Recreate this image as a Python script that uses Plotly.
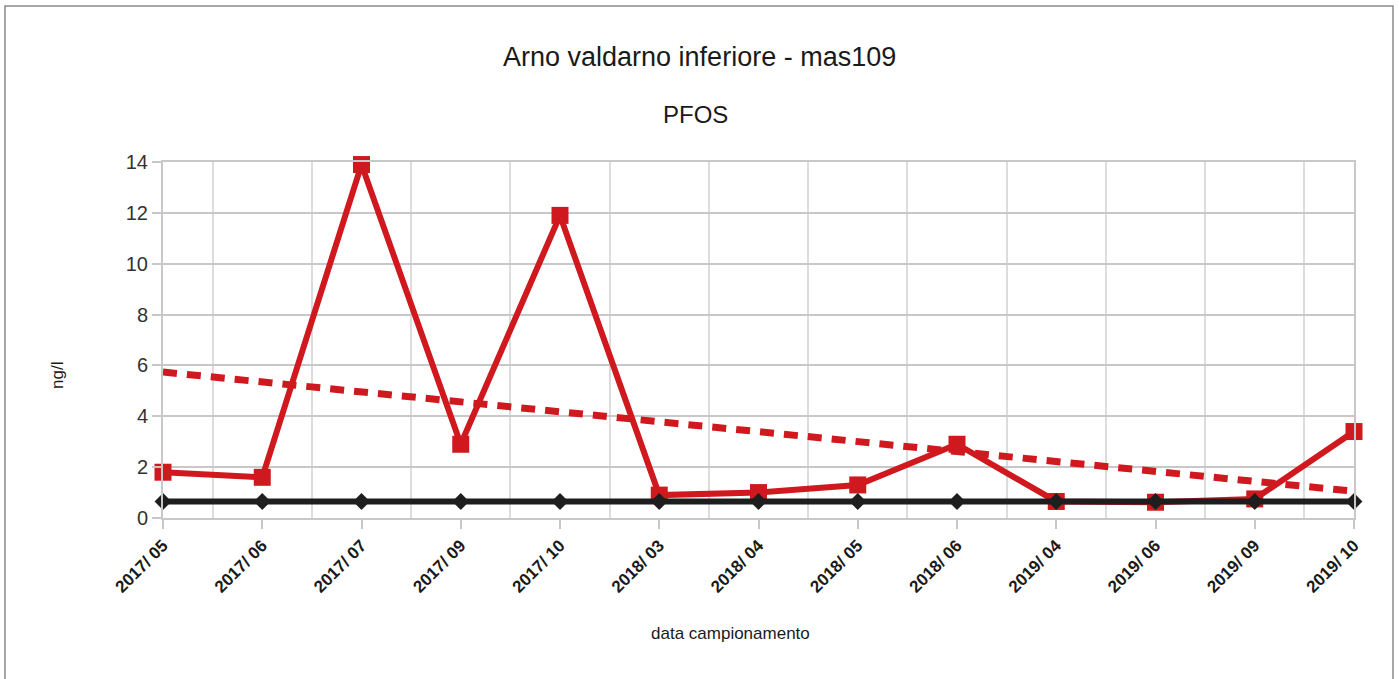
import plotly.graph_objects as go

categories = ["2017/ 05", "2017/ 06", "2017/ 07", "2017/ 09", "2017/ 10", "2018/ 03",
              "2018/ 04", "2018/ 05", "2018/ 06", "2019/ 04", "2019/ 06", "2019/ 09", "2019/ 10"]
pfos_values = [1.8, 1.6, 13.9, 2.9, 11.9, 0.9, 1.0, 1.3, 2.9, 0.65, 0.62, 0.75, 3.4]
limit_values = [0.65] * len(categories)
trend_values = [5.74, 1.05]  # linear trend, first and last category
y_ticks = [0, 2, 4, 6, 8, 10, 12, 14]

x_idx = list(range(len(categories)))
mid_idx = [i + 0.5 for i in range(len(categories) - 1)]

RED = "#d0191f"
GRID = "#c8c8c8"
FONT = "Liberation Sans"

fig = go.Figure()
fig.add_trace(go.Scatter(
    x=x_idx, y=pfos_values, mode="lines+markers",
    line=dict(color=RED, width=6),
    marker=dict(symbol="square", size=17, color=RED),
    cliponaxis=False, showlegend=False))
fig.add_trace(go.Scatter(
    x=[x_idx[0], x_idx[-1]], y=trend_values, mode="lines",
    line=dict(color=RED, width=7, dash="14px,10px"), hoverinfo="skip", showlegend=False))
fig.add_trace(go.Scatter(
    x=x_idx, y=limit_values, mode="lines+markers",
    line=dict(color="#1e1e1e", width=6),
    marker=dict(symbol="diamond", size=13, color="#1e1e1e"),
    cliponaxis=False, showlegend=False))

fig.update_xaxes(
    range=[0, len(categories) - 1], tickvals=x_idx, ticktext=categories, tickangle=-45,
    tickfont=dict(family=FONT, size=17, color="#1a1a1a", weight="bold"),
    showgrid=False, zeroline=False, showline=True, mirror=True, linecolor=GRID, linewidth=2,
    ticks="outside", ticklen=9, tickcolor=GRID, tickwidth=1.5,
    minor=dict(tickvals=mid_idx, showgrid=True, gridcolor="#dcdcdc", gridwidth=1.5, ticks=""),
)
fig.update_yaxes(
    range=[0, 14], tickvals=y_ticks,
    tickfont=dict(family=FONT, size=20, color="#333333"),
    showgrid=True, gridcolor=GRID, gridwidth=1.5, zeroline=False,
    showline=True, mirror=True, linecolor=GRID, linewidth=2,
    ticks="outside", ticklen=9, tickcolor=GRID, tickwidth=1.5,
)

W, H = 1399, 679
L, R, T, B = 163, 1354, 162, 518
pw, ph = R - L, B - T

def px(x):
    return (x - L) / pw

def py(y):
    return (B - y) / ph

fig.add_shape(type="rect", xref="paper", yref="paper",
              x0=px(5), x1=px(1393), y0=py(700), y1=py(6),
              line=dict(color="#8a8a8a", width=1.5), layer="below")

fig.add_annotation(text="Arno valdarno inferiore - mas109", xref="paper", yref="paper",
                   x=px(699), y=py(57), showarrow=False, xanchor="center", yanchor="middle",
                   font=dict(family=FONT, size=27, color="#1a1a1a"))
fig.add_annotation(text="PFOS", xref="paper", yref="paper",
                   x=px(695), y=py(115), showarrow=False, xanchor="center", yanchor="middle",
                   font=dict(family=FONT, size=24, color="#1a1a1a"))
fig.add_annotation(text="ng/l", xref="paper", yref="paper", textangle=-90,
                   x=px(57), y=py(375), showarrow=False, xanchor="center", yanchor="middle",
                   font=dict(family=FONT, size=17, color="#1a1a1a"))
fig.add_annotation(text="data campionamento", xref="paper", yref="paper",
                   x=px(730), y=py(633), showarrow=False, xanchor="center", yanchor="middle",
                   font=dict(family=FONT, size=17, color="#1a1a1a"))

fig.update_layout(
    width=W, height=H, autosize=False,
    margin=dict(l=L, r=W - R, t=T, b=H - B),
    paper_bgcolor="white", plot_bgcolor="white",
    showlegend=False,
)

fig.write_html("out.html", config={"displayModeBar": False},
               post_script="document.body.style.margin='0';document.body.style.overflow='hidden';")
